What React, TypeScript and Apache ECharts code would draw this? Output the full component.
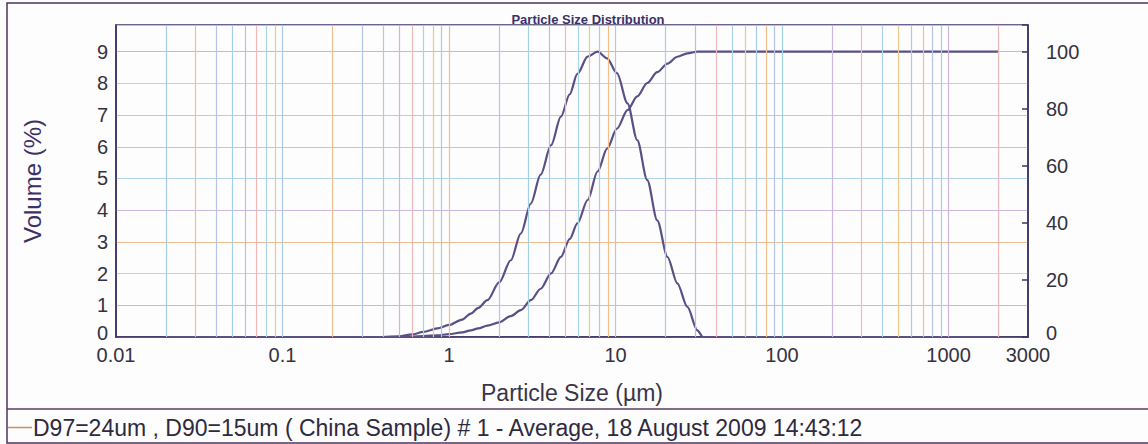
import React, { useEffect, useRef } from 'react';
import * as echarts from 'echarts';

// Particle sizes (µm) and readings
const sizes = [0.02, 0.05, 0.1, 0.2, 0.3, 0.4, 0.5, 0.6, 0.7, 0.85, 1.0, 1.2, 1.35, 1.5, 1.7, 2.0, 2.35, 2.7, 3.1, 3.55, 4.1, 4.7, 5.3, 5.9, 6.8, 7.8, 8.9, 10.2, 11.8, 13.5, 15.5, 17.8, 20.5, 23.5, 27, 31, 33.5, 40, 100, 1000, 2000];
const volume = [0, 0, 0, 0, 0, 0, 0.02, 0.08, 0.16, 0.27, 0.38, 0.55, 0.74, 0.92, 1.16, 1.72, 2.42, 3.27, 4.21, 5.12, 6.05, 6.95, 7.65, 8.3, 8.84, 9.0, 8.79, 8.32, 7.37, 6.21, 4.95, 3.68, 2.53, 1.69, 0.95, 0.21, 0, 0, 0, 0, 0];
const cumulative = [0, 0, 0, 0, 0, 0, 0, 0.15, 0.35, 0.6, 1.0, 1.6, 2.35, 3.0, 4.0, 5.1, 7.35, 9.4, 12.9, 16.9, 22.3, 28.1, 34.3, 39.8, 48.0, 58.0, 66.0, 73.0, 79.5, 84.3, 89.0, 92.8, 95.8, 98.2, 99.4, 100, 100, 100, 100, 100, 100];

// vertical grid positions (log minor ticks)
const gridX = [0.02, 0.03, 0.04, 0.05, 0.06, 0.07, 0.08, 0.09, 0.1, 0.2, 0.3, 0.4, 0.5, 0.6, 0.7, 0.8, 0.9, 1, 2, 3, 4, 5, 6, 7, 8, 9, 10, 20, 30, 40, 50, 60, 70, 80, 90, 100, 200, 300, 400, 500, 600, 700, 800, 900, 1000, 2000];

const sampleName = 'D97=24um , D90=15um ( China Sample) # 1 - Average, 18 August 2009 14:43:12';
const title = 'Particle Size Distribution';
const xName = 'Particle Size (µm)';
const yName = 'Volume (%)';

const vPalette = ['#a9cbe8', '#f1c08a', '#b7c4ea', '#a4d0e6', '#cdb6de', '#f0b8b8', '#a9d2e8', '#e9c98c'];
const hPalette = ['#a9c6ea', '#a9c6ea', '#eccf8f', '#f2bd95', '#c7b9df', '#b2d4ea', '#a9d2ea', '#f2c08c', '#ddd58a', '#c9b6dc'];

const LEFT_MAX = 9.84;
const RIGHT_MAX = (LEFT_MAX * 100) / 9;

const LABEL = '#35323f';

export default function App() {
  const ref = useRef<HTMLDivElement>(null);
  useEffect(() => {
    const chart = echarts.init(ref.current!, null, { renderer: 'svg' });
    const fmtX = (v: number) => String(Number(v.toPrecision(6)));
    const zeroRich = { z: { fontSize: 20, color: LABEL, padding: [0, 0, 9, 0] } };
    chart.setOption({
      animation: false,
      backgroundColor: '#fdfdfd',
      textStyle: { fontFamily: 'Liberation Sans, Arial, sans-serif' },
      title: {
        text: title,
        left: 583,
        top: 8,
        textAlign: 'center',
        textStyle: { fontSize: 13, fontWeight: 'bold', color: '#3b3068' },
      },
      legend: {
        data: [{ name: sampleName, itemStyle: { color: '#c4955a' } }],
        left: 3,
        top: 411,
        icon: 'rect',
        itemWidth: 24,
        itemHeight: 1.5,
        itemGap: 0,
        selectedMode: false,
        textStyle: { fontSize: 23, color: '#2e2a40', padding: [0, 0, 0, -4] },
      },
      grid: { left: 116, right: 120, top: 25, bottom: 107, show: true, borderColor: '#3b3266', borderWidth: 1.5 },
      xAxis: {
        type: 'log',
        min: 0.01,
        max: 3000,
        name: xName,
        nameLocation: 'middle',
        nameGap: 44,
        nameTextStyle: { fontSize: 23, color: '#3a3548' },
        axisLine: { lineStyle: { color: '#3b3266', width: 1.5 } },
        axisTick: { show: false },
        axisLabel: { fontSize: 20, color: LABEL, margin: 8, formatter: fmtX },
        splitLine: { show: false },
      },
      yAxis: [
        {
          type: 'value',
          min: 0,
          max: LEFT_MAX,
          interval: 1,
          name: yName,
          nameLocation: 'middle',
          nameGap: 72,
          nameTextStyle: { fontSize: 24, color: '#3d3266' },
          axisLine: { show: true, lineStyle: { color: '#3b3266', width: 1.5 } },
          axisTick: { show: false },
          axisLabel: {
            fontSize: 20,
            color: LABEL,
            margin: 8,
            rich: zeroRich,
            formatter: (v: number) => {
              if (Math.abs(v - Math.round(v)) > 1e-6) return '';
              return v === 0 ? '{z|0}' : String(Math.round(v));
            },
          },
          splitLine: { show: true, lineStyle: { color: hPalette, width: 1.2 } },
        },
        {
          type: 'value',
          min: 0,
          max: RIGHT_MAX,
          interval: 20,
          position: 'right',
          axisLine: { show: true, lineStyle: { color: '#3b3266', width: 1.5 } },
          axisTick: { show: true, inside: true, length: 6, lineStyle: { color: '#3b3266', width: 1.5 } },
          axisLabel: {
            fontSize: 20,
            color: LABEL,
            margin: 18,
            rich: zeroRich,
            formatter: (v: number) => {
              if (Math.abs(v % 20) > 1e-6 || v > 100) return '';
              return v === 0 ? '{z|0}' : String(Math.round(v));
            },
          },
          splitLine: { show: false },
        },
      ],
      series: [
        {
          name: 'grid',
          type: 'line',
          data: [[0.02, 0]],
          showSymbol: false,
          lineStyle: { opacity: 0 },
          silent: true,
          z: 1,
          markLine: {
            silent: true,
            symbol: 'none',
            label: { show: false },
            data: gridX.map((v, i) => ({ xAxis: v, lineStyle: { color: vPalette[i % vPalette.length], width: 1.2, type: 'solid' } })),
          },
        },
        {
          name: sampleName,
          type: 'line',
          yAxisIndex: 0,
          data: sizes.map((s, i) => [s, volume[i]]),
          showSymbol: false,
          smooth: 0.3,
          smoothMonotone: 'x',
          lineStyle: { color: '#5a4f86', width: 2.2 },
          itemStyle: { color: '#5a4f86' },
          z: 3,
        },
        {
          name: sampleName,
          type: 'line',
          yAxisIndex: 1,
          data: sizes.map((s, i) => [s, cumulative[i]]),
          showSymbol: false,
          smooth: 0.3,
          smoothMonotone: 'x',
          lineStyle: { color: '#5a4f86', width: 2.2 },
          itemStyle: { color: '#5a4f86' },
          z: 3,
        },
      ],
      graphic: [
        { type: 'rect', shape: { x: 7, y: 3, width: 1150, height: 440 }, style: { fill: 'none', stroke: '#4a3360', lineWidth: 1.5 }, silent: true },
        { type: 'line', shape: { x1: 7, y1: 409, x2: 1148, y2: 409 }, style: { stroke: '#5a3a66', lineWidth: 1.5 }, silent: true },
      ],
    });
    return () => chart.dispose();
  }, []);
  return <div ref={ref} style={{ position: 'fixed', left: 0, top: 0, width: 1148, height: 444 }} />;
}
